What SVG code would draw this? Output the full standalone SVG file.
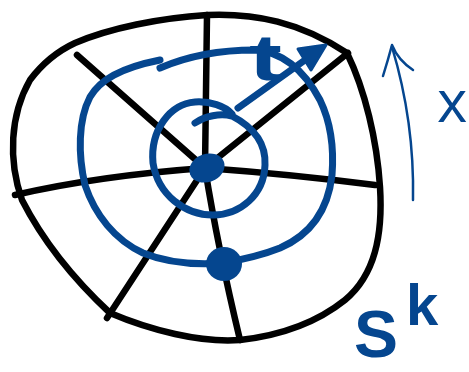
<svg xmlns="http://www.w3.org/2000/svg" width="469" height="372" viewBox="0 0 469 372">
<style>
.blk{fill:none;stroke:#000;stroke-width:6.5;stroke-linecap:round;stroke-linejoin:round}
.blu{fill:none;stroke:#05468f;stroke-width:7;stroke-linecap:round;stroke-linejoin:round}
.thin{fill:none;stroke:#05468f;stroke-width:2.5;stroke-linecap:round;stroke-linejoin:round}
.dot{fill:#05468f}
.lbl{fill:#05468f;font-family:"Liberation Sans",Arial,sans-serif;font-weight:bold}
</style>
<rect width="469" height="372" fill="#fff"/>
<g id="disk">
<path class="blk" d="M75,43 C110,28 160,18 207,15 C255,13 300,22 347,53 C365,90 377,140 380,187 C383,235 375,275 345,300 C320,320 285,335 240,340 C200,343 150,330 110,313 C80,285 45,245 22,200 C8,160 10,115 30,80 C45,60 60,50 75,43 Z"/>
</g>
<g id="spokes">
<path class="blk" d="M205,168 L207,15"/>
<path class="blk" d="M205,168 L77,55"/>
<path class="blk" d="M205,168 L348,53"/>
<path class="blk" d="M205,168 C150,172 80,180 15,195"/>
<path class="blk" d="M205,168 C260,172 320,178 375,185"/>
<path class="blk" d="M205,168 L107,318"/>
<path class="blk" d="M205,168 C215,230 228,290 240,340"/>
</g>
<g id="loops">
<path class="blu" d="M195,123 C205,116 220,113 232,116 C255,128 266,145 265,165 C264,195 240,215 213,215 C185,215 158,195 153,163 C150,130 170,104 195,102 C210,101 225,106 232,114"/>
<path class="blu" d="M160,68 C190,55 220,50 255,50 C285,52 305,72 320,100 C332,125 334,150 332,175 C328,210 310,235 280,248 C260,256 240,260 223,263 C195,265 165,262 143,253 C115,240 95,215 85,185 C78,155 78,120 90,97 C100,80 120,68 160,60"/>
</g>
<g id="center-point"><ellipse class="dot" cx="207" cy="168" rx="18" ry="14" transform="rotate(-20 207 168)"/></g>
<g id="loop-point"><ellipse class="dot" cx="224" cy="264" rx="18" ry="17"/></g>
<g id="label-t"><text class="lbl" x="249" y="80" font-size="65" textLength="33" lengthAdjust="spacingAndGlyphs">t</text></g>
<g id="arrows">
<path class="blu" d="M238,108 L312,55"/>
<path class="dot" stroke="#05468f" stroke-width="3" stroke-linejoin="round" d="M298,49 L326,45 L311,70 Z"/>
<path class="thin" d="M413,200 C414,150 408,100 392,47"/>
<path class="thin" d="M383,76 Q388,60 392,45 Q398,60 413,70"/>
</g>
<g id="label-x"><text x="437" y="122" font-size="58" font-family="'Open Sans','Liberation Sans',sans-serif" font-weight="400" fill="#05468f">x</text></g>
<g id="label-Sk">
<text class="lbl" x="354" y="357" font-size="66">S</text>
<text class="lbl" x="406" y="325" font-size="58">k</text>
</g>
</svg>
